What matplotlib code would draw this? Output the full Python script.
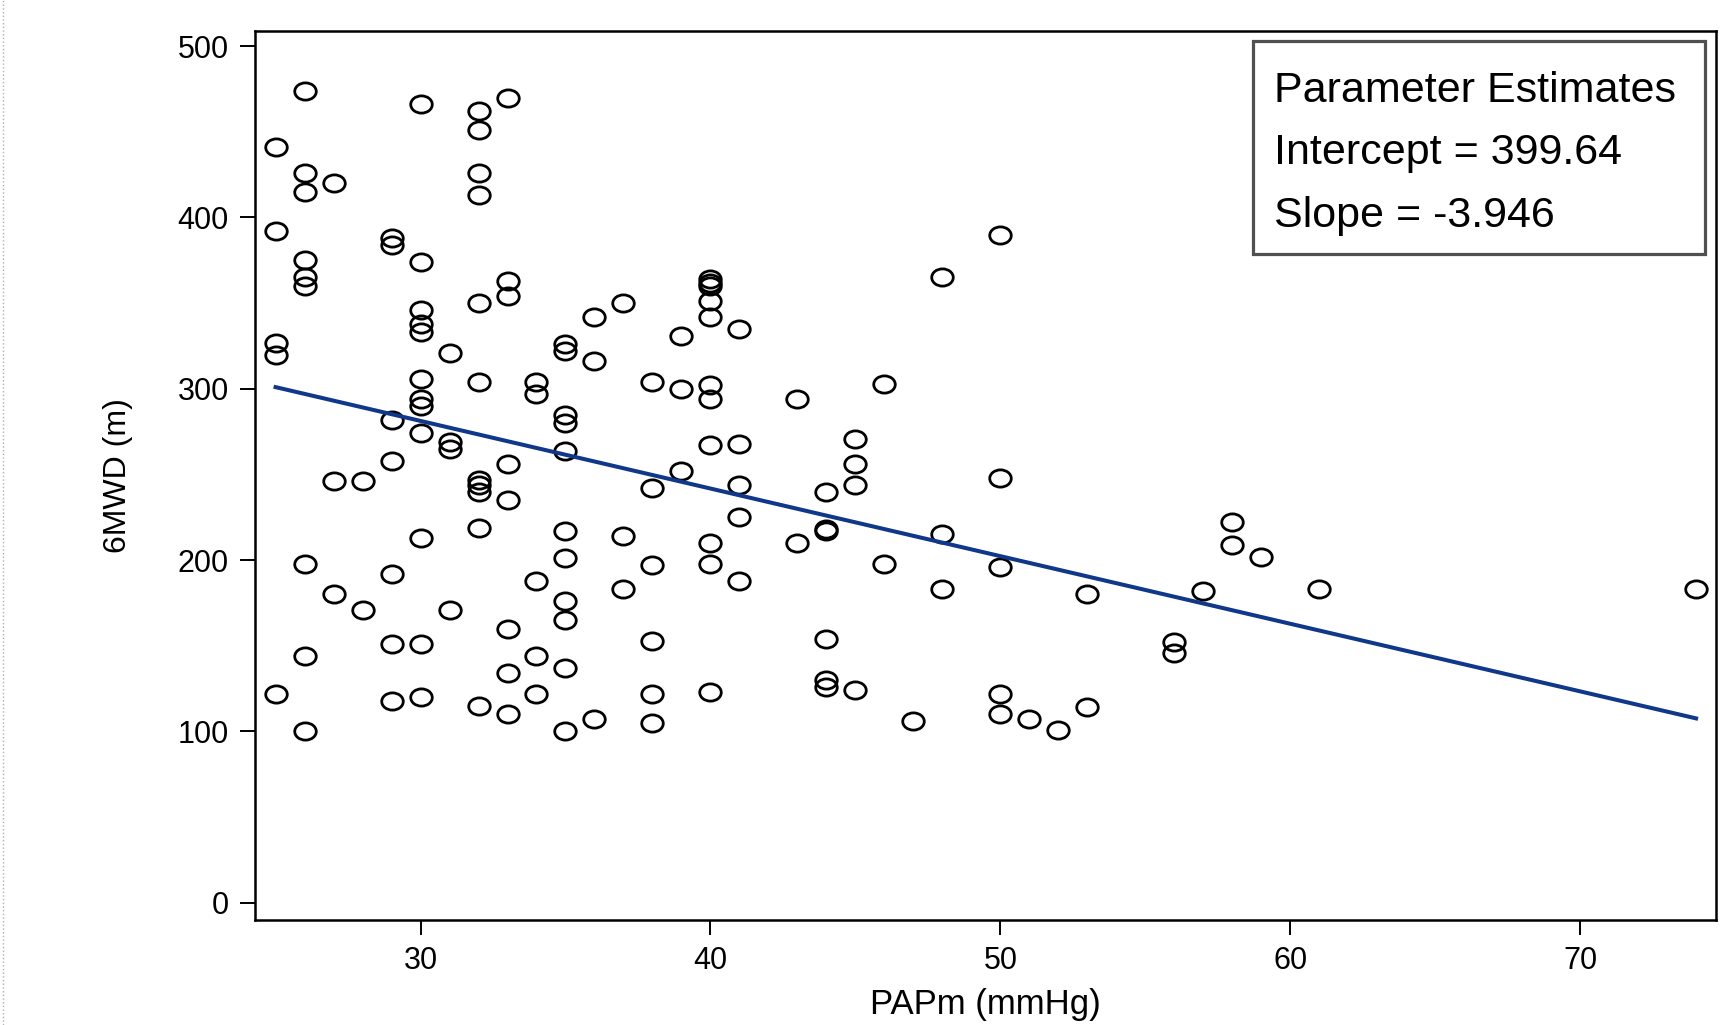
import matplotlib
matplotlib.use('Agg')
import matplotlib.pyplot as plt
from matplotlib.path import Path
from matplotlib.transforms import Affine2D
from matplotlib.patches import Rectangle
from matplotlib.lines import Line2D

# PAPm (mmHg) and 6MWD (m), column by column
pap = ([25] * 5 + [26] * 9 + [27] * 3 + [28] * 2 + [29] * 7 + [30] * 12 + [31] * 4
       + [32] * 11 + [33] * 8 + [34] * 5 + [35] * 11 + [36] * 3 + [37] * 3 + [38] * 6
       + [39] * 3 + [40] * 11 + [41] * 5 + [43] * 2 + [44] * 6 + [45] * 4 + [46] * 2
       + [47] + [48] * 3 + [50] * 5 + [51] + [52] + [53] * 2 + [56] * 2 + [57]
       + [58] * 2 + [59] + [61] + [74])
mwd = [441, 392, 327, 320, 122,
       474, 426, 415, 375, 365, 360, 198, 144, 100,
       420, 246, 180,
       246, 171,
       388, 384, 282, 258, 192, 151, 118,
       466, 374, 346, 338, 333, 306, 294, 290, 274, 213, 151, 120,
       321, 269, 265, 171,
       462, 451, 426, 413, 350, 304, 247, 244, 240, 219, 115,
       470, 363, 354, 256, 235, 160, 134, 110,
       304, 297, 188, 144, 122,
       326, 322, 285, 280, 264, 217, 201, 176, 165, 137, 100,
       342, 316, 107,
       350, 214, 183,
       304, 242, 197, 153, 122, 105,
       331, 300, 252,
       364, 362, 360, 351, 342, 302, 294, 267, 210, 198, 123,
       335, 268, 244, 225, 188,
       294, 210,
       240, 218, 217, 154, 130, 126,
       271, 256, 244, 124,
       303, 198,
       106,
       365, 215, 183,
       390, 248, 196, 122, 110,
       107,
       101,
       180, 114,
       152, 146,
       182,
       222, 209,
       202,
       183,
       183]

intercept = 399.64
slope = -3.946
fit_x = [min(pap), max(pap)]
fit_y = [intercept + slope * v for v in fit_x]

xticks = [30, 40, 50, 60, 70]
yticks = [0, 100, 200, 300, 400, 500]
box_lines = ['Parameter Estimates', 'Intercept = 399.64', 'Slope = -3.946']

plt.rcParams['font.family'] = ['Liberation Sans', 'DejaVu Sans']

fig = plt.figure(figsize=(17.25, 10.25), dpi=100)
ax = fig.add_axes([0.148, 0.1025, 0.847, 0.8675])

# slightly flattened open circles
ellipse = Path.unit_circle().transformed(Affine2D().scale(1.0, 0.8))
ax.plot(pap, mwd, linestyle='none', marker=ellipse, markersize=15.5,
        markerfacecolor='none', markeredgecolor='black', markeredgewidth=2.0)
ax.plot(fit_x, fit_y, color='#0f378a', linewidth=2.9)

ax.set_xlim(24.3, 74.7)
ax.set_ylim(-10, 509)
ax.set_xticks(xticks)
ax.set_yticks(yticks)
ax.tick_params(direction='out', length=11, width=1.4, labelsize=22)
ax.tick_params(axis='x', pad=8)
ax.tick_params(axis='y', pad=8)
for s in ax.spines.values():
    s.set_linewidth(1.8)

ax.set_xlabel('PAPm (mmHg)', fontsize=25)
ax.xaxis.set_label_coords(0.5, -0.077)
ax.set_ylabel('6MWD (m)', fontsize=23)
ax.yaxis.set_label_coords(-0.084, 0.5)

ax.add_patch(Rectangle((0.683, 0.749), 0.309, 0.240, transform=ax.transAxes,
                       facecolor='white', edgecolor='#505050', linewidth=2.3, zorder=5))
for txt, yy in zip(box_lines, [0.920, 0.850, 0.779]):
    ax.text(0.697, yy, txt, transform=ax.transAxes, fontsize=31,
            va='baseline', ha='left', zorder=6)

# faint dotted border at the left edge of the original image
fig.add_artist(Line2D([0.002, 0.002], [0, 1], transform=fig.transFigure,
                      color='#b0b0b0', linestyle=':', linewidth=1))

fig.savefig('out.png', dpi=100)
